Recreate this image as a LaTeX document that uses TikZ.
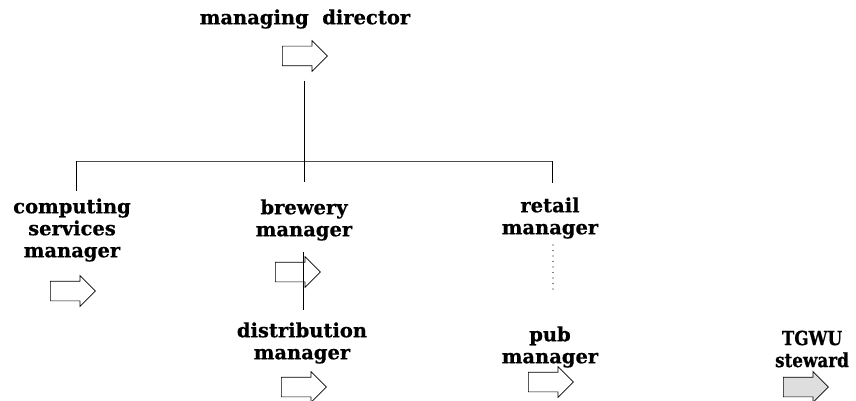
\documentclass[tikz,border=0pt]{standalone}
\usepackage{fontspec}
\setmainfont{DejaVu Serif}[BoldFeatures={FakeBold=0.6}]
\usetikzlibrary{shapes.arrows}
\begin{document}
\begin{tikzpicture}[x=1pt,y=-1pt,
  title/.style={font=\bfseries\fontsize{19.5}{22}\selectfont, align=center, inner sep=0pt},
  narrow/.style={font=\bfseries\fontsize{19.5}{22}\selectfont\addfontfeatures{FakeStretch=0.86}},
  flag/.style={single arrow, draw=black, line width=0.7pt, anchor=tail,
    minimum height=45pt, minimum width=30pt, inner xsep=0pt, inner ysep=9.5pt,
    single arrow head extend=5.5pt},
  wire/.style={line width=0.8pt, black},
  dots/.style={line width=1.4pt, line cap=round, dash pattern=on 0pt off 5.5pt}]
\useasboundingbox (0,0) rectangle (856,401);

% job titles
\node[title] (md) at (305,19) {managing~ director};
\node[title] (cs) at (72,230) {computing\\services\\manager};
\node[title] (br) at (304,220) {brewery\\manager};
\node[title] (di) at (302,343) {distribution\\manager};
\node[title] (rt) at (550,218) {retail\\manager};
\node[title] (pb) at (550,347) {pub\\manager};
\node[title, narrow] (tg) at (812,349) {TGWU\\steward};

% arrow markers under each title
\node[flag] (a-md) at (282,56) {};
\node[flag] (a-cs) at (50,291) {};
\node[flag] (a-br) at (275,272) {};
\node[flag] (a-di) at (281,387) {};
\node[flag] (a-pb) at (528,382) {};
\node[flag, fill=black!13] (a-tg) at (783,387) {};

% reporting lines
\coordinate (md-foot) at (304,81);
\coordinate (bus-l) at (76,161);
\coordinate (bus-m) at (304,161);
\coordinate (bus-r) at (552,161);
\coordinate (cs-top) at (76,191);
\coordinate (br-top) at (304,182);
\coordinate (rt-top) at (552,183);
\coordinate (br-low) at (303,252);
\coordinate (di-top) at (303,310);
\coordinate (rt-low) at (553,245);
\coordinate (pb-top) at (553,291);

\draw[wire] (md-foot) -- (bus-m);
\draw[wire, black!70] (bus-l) -- (bus-r);
\draw[wire] (bus-l) -- (cs-top);
\draw[wire] (bus-m) -- (br-top);
\draw[wire] (bus-r) -- (rt-top);
\draw[wire] (br-low) -- (di-top);
\draw[dots] (rt-low) -- (pb-top);
\end{tikzpicture}
\end{document}
